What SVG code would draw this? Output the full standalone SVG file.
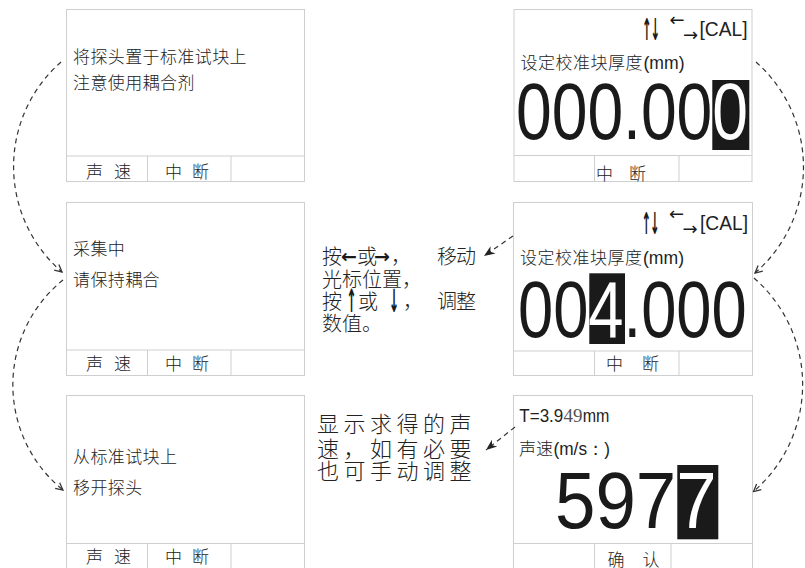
<svg xmlns="http://www.w3.org/2000/svg" width="805" height="568" viewBox="0 0 805 568">
<style>
.panel{fill:#fff;stroke:#cfcfcf;stroke-width:1}
.sep{stroke:#cfcfcf;stroke-width:1;fill:none}
.cjk{font-family:"Noto Sans CJK SC","Noto Sans",sans-serif;font-weight:300;fill:#222}
.t17{font-size:17px;letter-spacing:0.4px}
.ft{font-size:17px}
.lat{font-family:"Liberation Sans",Arial,sans-serif;fill:#222}
.big{font-family:"Liberation Sans",Arial,sans-serif;font-size:80px;fill:#1a1a1a}
.arr{font-family:"DejaVu Sans",sans-serif;fill:#1a1a1a}
.mid{font-size:20px}
.mid2{font-size:22px;letter-spacing:4.5px}
.conn{fill:none;stroke:#333;stroke-width:1.2;stroke-dasharray:5 4}
.box{fill:#1a1a1a}
</style>
<defs>
<marker id="open" viewBox="0 0 10 10" refX="9" refY="5" markerWidth="9" markerHeight="9" markerUnits="userSpaceOnUse" orient="auto">
<path d="M1,1 L9,5 L1,9" fill="none" stroke="#333" stroke-width="1.4" stroke-dasharray="none"/>
</marker>
<marker id="solid" viewBox="0 0 10 10" refX="10" refY="5" markerWidth="11" markerHeight="11" markerUnits="userSpaceOnUse" orient="auto">
<path d="M0,1 L10,5 L0,9 L3,5 z" fill="#222" stroke="none"/>
</marker>
</defs>
<rect width="805" height="568" fill="#fff"/>

<g id="panel-l1">
<rect class="panel" x="66.5" y="9.5" width="238" height="172"/>
<path class="sep" d="M66.5,156 H304.5 M147.5,156 V181.5 M231,156 V181.5"/>
<text class="cjk t17" x="73" y="63">将探头置于标准试块上</text>
<text class="cjk t17" x="73" y="88.5">注意使用耦合剂</text>
<text class="cjk ft" y="178"><tspan x="86">声</tspan><tspan x="114">速</tspan><tspan x="165">中</tspan><tspan x="192">断</tspan></text>
</g>

<g id="panel-l2">
<rect class="panel" x="66.5" y="202.5" width="238" height="173"/>
<path class="sep" d="M66.5,350 H304.5 M147.5,350 V375.5 M231,350 V375.5"/>
<text class="cjk t17" x="73" y="255">采集中</text>
<text class="cjk t17" x="73" y="286">请保持耦合</text>
<text class="cjk ft" y="369.5"><tspan x="86">声</tspan><tspan x="114">速</tspan><tspan x="165">中</tspan><tspan x="192">断</tspan></text>
</g>

<g id="panel-l3">
<rect class="panel" x="66.5" y="395.5" width="238" height="185"/>
<path class="sep" d="M66.5,543.5 H304.5 M147.5,543.5 V570 M231,543.5 V570"/>
<text class="cjk t17" x="73" y="463">从标准试块上</text>
<text class="cjk t17" x="73" y="494">移开探头</text>
<text class="cjk ft" y="563"><tspan x="86">声</tspan><tspan x="114">速</tspan><tspan x="165">中</tspan><tspan x="192">断</tspan></text>
</g>

<g id="panel-r1">
<rect class="panel" x="514" y="9.5" width="238" height="172"/>
<path class="sep" d="M514,155.5 H752 M594.5,155.5 V181.5 M679,155.5 V181.5"/>
<text class="arr" font-size="30" font-weight="bold" text-anchor="middle" transform="translate(646.8,39.5) scale(0.38,1)">↑</text>
<text class="arr" font-size="30" font-weight="bold" text-anchor="middle" transform="translate(655.2,39.5) scale(0.38,1)">↓</text>
<text class="arr" font-size="18" x="677" y="25.5" text-anchor="middle">←</text>
<text class="arr" font-size="18" x="690.5" y="40.5" text-anchor="middle">→</text>
<text class="lat" font-size="20" x="699.5" y="36" textLength="48" lengthAdjust="spacingAndGlyphs">[CAL]</text>
<text class="cjk" font-size="17" x="520.5" y="68.5" letter-spacing="0.5">设定校准块厚度</text>
<text class="lat" font-size="18" x="643.5" y="68.5" textLength="41" lengthAdjust="spacingAndGlyphs">(mm)</text>
<rect class="box" x="712.3" y="80" width="37" height="70"/>
<text class="big" x="516" y="138.5" textLength="232" lengthAdjust="spacingAndGlyphs">000.00<tspan fill="#fff">0</tspan></text>
<text class="cjk ft" y="179.5"><tspan x="596">中</tspan><tspan x="629">断</tspan></text>
</g>

<g id="panel-r2">
<rect class="panel" x="513.5" y="202.5" width="239" height="173"/>
<path class="sep" d="M513.5,351 H752.5 M594.5,351 V375.5 M679,351 V375.5"/>
<text class="arr" font-size="30" font-weight="bold" text-anchor="middle" transform="translate(646.3,233.5) scale(0.38,1)">↑</text>
<text class="arr" font-size="30" font-weight="bold" text-anchor="middle" transform="translate(654.7,233.5) scale(0.38,1)">↓</text>
<text class="arr" font-size="18" x="676.5" y="219.5" text-anchor="middle">←</text>
<text class="arr" font-size="18" x="690" y="234.5" text-anchor="middle">→</text>
<text class="lat" font-size="20" x="700" y="230" textLength="48" lengthAdjust="spacingAndGlyphs">[CAL]</text>
<text class="cjk" font-size="17" x="520" y="263.5" letter-spacing="0.5">设定校准块厚度</text>
<text class="lat" font-size="18" x="643" y="263.5" textLength="41" lengthAdjust="spacingAndGlyphs">(mm)</text>
<rect class="box" x="589.3" y="273.3" width="35.7" height="70.7"/>
<text class="big" x="518" y="336.7" textLength="228.7" lengthAdjust="spacingAndGlyphs">00<tspan fill="#fff">4</tspan>.000</text>
<text class="cjk ft" y="369.5"><tspan x="606">中</tspan><tspan x="642">断</tspan></text>
</g>

<g id="panel-r3">
<rect class="panel" x="513.5" y="395.5" width="239" height="185"/>
<path class="sep" d="M513.5,543.5 H752.5 M594.5,543.5 V570 M671,543.5 V570"/>
<text class="lat" font-size="18" x="519.3" y="421.7" textLength="44" lengthAdjust="spacingAndGlyphs">T=3.9</text>
<text font-family="Liberation Serif,serif" font-size="19" fill="#555" x="563.5" y="421.7" textLength="19" lengthAdjust="spacingAndGlyphs">49</text>
<text class="lat" font-size="18" x="582.7" y="421.7" textLength="26.7" lengthAdjust="spacingAndGlyphs">mm</text>
<text class="cjk" font-size="17" x="519" y="454.5">声速</text>
<text class="lat" font-size="18" x="553.5" y="454.5" textLength="56.5" lengthAdjust="spacingAndGlyphs">(m/s：)</text>
<rect class="box" x="677.3" y="465" width="41" height="74.3"/>
<text class="big" x="555" y="528.3" textLength="161.7" lengthAdjust="spacingAndGlyphs">597<tspan fill="#fff">7</tspan></text>
<text class="cjk ft" y="566"><tspan x="607.5">确</tspan><tspan x="642.5">认</tspan></text>
</g>

<g id="note-cursor">
<text class="cjk mid" y="264.3"><tspan x="322">按</tspan><tspan x="357">或</tspan><tspan x="391">，</tspan><tspan x="437">移</tspan><tspan x="456">动</tspan></text>
<text class="arr" font-size="19" font-weight="bold" x="349" y="263" text-anchor="middle">←</text>
<text class="arr" font-size="19" font-weight="bold" x="382" y="263" text-anchor="middle">→</text>
<text class="cjk mid" x="322" y="286.6">光标位置，</text>
<text class="cjk mid" y="309.3"><tspan x="322">按</tspan><tspan x="358">或</tspan><tspan x="403">，</tspan><tspan x="437">调</tspan><tspan x="456">整</tspan></text>
<text class="arr" font-size="32" font-weight="bold" text-anchor="middle" transform="translate(351.5,312) scale(0.38,1)">↑</text>
<text class="arr" font-size="32" font-weight="bold" text-anchor="middle" transform="translate(394,312) scale(0.38,1)">↓</text>
<text class="cjk mid" x="322" y="331">数值。</text>
</g>

<g id="note-speed">
<text class="cjk mid2" x="317" y="431.7">显示求得的声</text>
<text class="cjk mid2" x="317" y="457">速，如有必要</text>
<text class="cjk mid2" x="317" y="479">也可手动调整</text>
</g>

<g id="connectors">
<path class="conn" d="M61,62 A139,139 0 0 0 62,272" marker-end="url(#open)"/>
<path class="conn" d="M63,280 A135,135 0 0 0 63,490" marker-end="url(#open)"/>
<path class="conn" d="M756,62 A140,140 0 0 1 755,273" marker-end="url(#open)"/>
<path class="conn" d="M754,278 A141,141 0 0 1 753.5,491.5" marker-end="url(#open)"/>
<path class="conn" d="M513,236 L484,256" marker-end="url(#solid)"/>
<path class="conn" d="M515,427 L486,450" marker-end="url(#solid)"/>
</g>
</svg>
